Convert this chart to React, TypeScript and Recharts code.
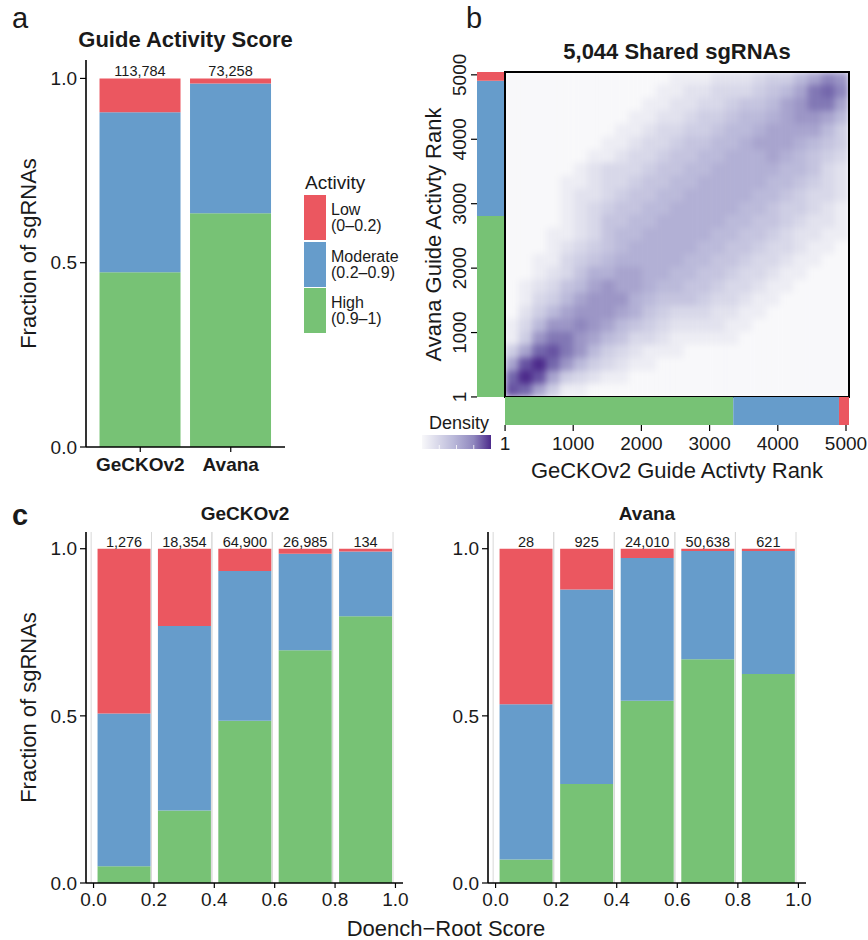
import React from 'react';
import { BarChart, Bar, XAxis, YAxis, LabelList, ReferenceArea, ComposedChart } from 'recharts';

const FONT = '"Liberation Sans", Arial, Helvetica, sans-serif';
const INK = '#1a1a1a';
const RED = '#EB5760';
const BLUE = '#669CCB';
const GREEN = '#77C275';

// activity classes, legend order
const activityNames = ['Low', 'Moderate', 'High'];
const activityRanges = ['(0–0.2)', '(0.2–0.9)', '(0.9–1)'];
const activityColors = [RED, BLUE, GREEN];

// panel a: fraction of guides per library
const libraries = ['GeCKOv2', 'Avana'];
const libHigh = [0.474, 0.634];
const libModerate = [0.434, 0.352];
const libLow = [0.092, 0.014];
const libCounts = [113784, 73258];

// panel b: rank vs rank density of the shared guides
const RANK_MAX = 5044;
const rankTicks = [1, 1000, 2000, 3000, 4000, 5000];
const avanaRankSplit = [2810, 2097, 137]; // high, moderate, low
const geckoRankSplit = [3347, 1550, 147];
// density level 0-f, top row first, GeCKOv2 rank left to right
const densityRows = [
  '00000000000011122234468A9',
  '0000000000011223334568BCA',
  '0000000000112233455689BB8',
  '0000000001122344566789986',
  '0000000011233445667888864',
  '0000000112334556678887654',
  '0000001123345566777876543',
  '0000012333455667777766532',
  '0000112334556677777665432',
  '0000122345566777776654332',
  '0000123455667777766544321',
  '0000123556677777665543221',
  '0001123566777776655432211',
  '0001234567777766554332110',
  '0011345677777665543321100',
  '0012357788776655433211000',
  '0123568988766554332110000',
  '0134689997655543321100000',
  '0246899987543332211000000',
  '13699A9865432222110000000',
  '149BB98653321111100000000',
  '48CDB96432111000000000000',
  '8DFC964321100000000000000',
  'CFD8432110000000000000000',
  'DC84110000000000000000000',
];
const densityPalette = [
  '#f8f8fa', '#ededf4', '#e2e2ee', '#d8d8e9', '#cecee4', '#c5c4df', '#bbbada', '#b2b0d5',
  '#a8a4ce', '#9c96c6', '#8f87be', '#8278b5', '#7467ac', '#6753a2', '#5a3e96', '#4c2a8b',
];

// panel c: activity by Doench-Root score bin
const scoreBins = [0.1, 0.3, 0.5, 0.7, 0.9];
const scoreTicks = [0, 0.2, 0.4, 0.6, 0.8, 1];
const geckoHigh = [0.05, 0.217, 0.485, 0.696, 0.798];
const geckoModerate = [0.457, 0.552, 0.448, 0.289, 0.194];
const geckoLow = [0.493, 0.231, 0.067, 0.015, 0.008];
const geckoCounts = [1276, 18354, 64900, 26985, 134];
const avanaHigh = [0.07, 0.296, 0.545, 0.669, 0.625];
const avanaModerate = [0.465, 0.582, 0.427, 0.324, 0.368];
const avanaLow = [0.465, 0.122, 0.028, 0.007, 0.007];
const avanaCounts = [28, 925, 24010, 50638, 621];

const axisLine = { stroke: '#000', strokeWidth: 1.6 };
const tickLine = { stroke: '#000', strokeWidth: 1.2 };
const tickText = { fill: INK, fontSize: 19 };
const fmtCount = (v: any) => Number(v).toLocaleString('en-US');

function stackBars(withCount: boolean) {
  return [
    <Bar key="high" dataKey="high" stackId="s" fill={GREEN} isAnimationActive={false} />,
    <Bar key="moderate" dataKey="moderate" stackId="s" fill={BLUE} isAnimationActive={false} />,
    <Bar key="low" dataKey="low" stackId="s" fill={RED} isAnimationActive={false}>
      {withCount && (
        <LabelList dataKey="count" position="top" offset={2} formatter={fmtCount} style={{ fill: INK, fontSize: 14.5 }} />
      )}
    </Bar>,
  ];
}

function PanelA() {
  const data = libraries.map((name, i) => ({
    name, high: libHigh[i], moderate: libModerate[i], low: libLow[i], count: libCounts[i],
  }));
  return (
    <div style={{ position: 'absolute', left: 0, top: 0 }}>
      <BarChart width={300} height={490} data={data} margin={{ top: 60, right: 15, bottom: 0, left: 0 }} barCategoryGap="5%">
        <XAxis dataKey="name" padding={{ left: 9, right: 9 }} height={43} interval={0}
          axisLine={axisLine} tickLine={tickLine} tickSize={5} tickMargin={6}
          tick={{ fill: INK, fontSize: 19, fontWeight: 700 }} />
        <YAxis width={86} domain={[0, 1.05]} ticks={[0, 0.5, 1]} tickFormatter={(v) => v.toFixed(1)}
          axisLine={axisLine} tickLine={tickLine} tickSize={6} tickMargin={3} tick={tickText}
          label={{ value: 'Fraction of sgRNAs', angle: -90, position: 'insideLeft', offset: 28, fontSize: 22, fill: INK, style: { textAnchor: 'middle' } }} />
        {stackBars(true)}
      </BarChart>
    </div>
  );
}

function RotatedTick(props: any) {
  const { x, y, payload } = props;
  const cx = x - 9;
  return (
    <text x={cx} y={y} transform={`rotate(-90 ${cx} ${y})`} textAnchor="middle" dominantBaseline="central" fontSize={19} fill={INK}>
      {payload.value}
    </text>
  );
}

function PanelB() {
  const grid = densityRows.length;
  const span = RANK_MAX / grid;
  const cells = densityRows.flatMap((row, r) =>
    row.split('').map((ch, c) => ({ c, j: grid - 1 - r, level: parseInt(ch, 16) })),
  );
  const avana = [{ name: 'Avana', high: avanaRankSplit[0], moderate: avanaRankSplit[1], low: avanaRankSplit[2] }];
  const gecko = [{ name: 'GeCKOv2', high: geckoRankSplit[0], moderate: geckoRankSplit[1], low: geckoRankSplit[2] }];
  return (
    <>
      {/* density tiles, softened like the smoothed raster of the original */}
      <div style={{ position: 'absolute', left: 505, top: 72, width: 344, height: 325, overflow: 'hidden' }}>
        <div style={{ filter: 'blur(3px)' }}>
          <ComposedChart width={344} height={325} data={[]} margin={{ top: 0, right: 0, bottom: 0, left: 0 }}>
            <XAxis type="number" dataKey="x" domain={[0, RANK_MAX]} hide height={0} allowDataOverflow />
            <YAxis type="number" dataKey="y" domain={[0, RANK_MAX]} hide width={0} allowDataOverflow />
            {cells.map((d) => (
              <ReferenceArea key={`${d.c}-${d.j}`} x1={d.c * span} x2={(d.c + 1) * span} y1={d.j * span} y2={(d.j + 1) * span}
                fill={densityPalette[d.level]} fillOpacity={1} stroke={densityPalette[d.level]} strokeWidth={0.6} ifOverflow="visible" />
            ))}
          </ComposedChart>
        </div>
      </div>
      <div style={{ position: 'absolute', left: 503, top: 70 }}>
        <ComposedChart width={348} height={329} data={[]} margin={{ top: 2, right: 2, bottom: 2, left: 2 }}>
          <XAxis type="number" dataKey="x" domain={[0, RANK_MAX]} hide height={0} allowDataOverflow />
          <YAxis type="number" dataKey="y" domain={[0, RANK_MAX]} hide width={0} allowDataOverflow />
          <ReferenceArea x1={0} x2={RANK_MAX} y1={0} y2={RANK_MAX} fill="none" fillOpacity={0} stroke="#000" strokeWidth={2} ifOverflow="visible" />
        </ComposedChart>
      </div>
      <div style={{ position: 'absolute', left: 420, top: 50 }}>
        <BarChart width={85} height={359} data={avana} margin={{ top: 22, right: 1, bottom: 12, left: 0 }} barCategoryGap={0}>
          <XAxis dataKey="name" hide height={0} />
          <YAxis width={57} domain={[0, RANK_MAX]} ticks={rankTicks} allowDataOverflow axisLine={false} interval={0}
            tickLine={tickLine} tickSize={6} tickMargin={2} tick={(p: any) => <RotatedTick {...p} />}
            label={{ value: 'Avana Guide Activty Rank', angle: -90, position: 'insideLeft', offset: 13, fontSize: 22, fill: INK, style: { textAnchor: 'middle' } }} />
          {stackBars(false)}
        </BarChart>
      </div>
      <div style={{ position: 'absolute', left: 483, top: 395 }}>
        <BarChart layout="vertical" width={385} height={95} data={gecko} margin={{ top: 2, right: 19, bottom: 0, left: 22 }} barCategoryGap={0}>
          <YAxis type="category" dataKey="name" hide width={0} />
          <XAxis type="number" domain={[0, RANK_MAX]} ticks={rankTicks} allowDataOverflow height={65} axisLine={false} interval={0}
            tickLine={tickLine} tickSize={6} tickMargin={6} tick={tickText}
            label={{ value: 'GeCKOv2 Guide Activty Rank', position: 'insideBottom', offset: 12, fontSize: 22, fill: INK }} />
          {stackBars(false)}
        </BarChart>
      </div>
    </>
  );
}

function BinFrame(props: any) {
  const { x, y, width, height } = props;
  return (
    <g>
      <line x1={x} y1={y} x2={x} y2={y + height} stroke="#d8d8d8" strokeWidth={1} />
      <line x1={x + width} y1={y} x2={x + width} y2={y + height} stroke="#d8d8d8" strokeWidth={1} />
    </g>
  );
}

function ScorePanel(props: any) {
  const { left, width, yWidth, right, high, moderate, low, counts, yLabel } = props;
  const data = scoreBins.map((x, i) => ({ x, high: high[i], moderate: moderate[i], low: low[i], count: counts[i] }));
  return (
    <div style={{ position: 'absolute', left, top: 500 }}>
      <BarChart width={width} height={440} data={data} margin={{ top: 32, right, bottom: 0, left: 0 }} barSize={53}>
        <XAxis type="number" dataKey="x" domain={[-0.025, 1.025]} ticks={scoreTicks} allowDataOverflow interval={0}
          tickFormatter={(v) => v.toFixed(1)} height={57} axisLine={axisLine} tickLine={tickLine}
          tickSize={5} tickMargin={5} tick={tickText} />
        <YAxis width={yWidth} domain={[0, 1.05]} ticks={[0, 0.5, 1]} tickFormatter={(v) => v.toFixed(1)}
          axisLine={axisLine} tickLine={tickLine} tickSize={6} tickMargin={3} tick={tickText}
          label={yLabel ? { value: 'Fraction of sgRNAs', angle: -90, position: 'insideLeft', offset: 28, fontSize: 22, fill: INK, style: { textAnchor: 'middle' } } : undefined} />
        {scoreBins.map((c) => (
          <ReferenceArea key={c} x1={c - 0.108} x2={c + 0.092} y1={0} y2={1.05} shape={BinFrame} ifOverflow="visible" />
        ))}
        {stackBars(true)}
      </BarChart>
    </div>
  );
}

function Overlay() {
  const t = { fill: INK, fontFamily: FONT };
  const keyTops = [195, 242, 288];
  return (
    <svg width={868} height={940} style={{ position: 'absolute', left: 0, top: 0, pointerEvents: 'none' }}>
      <defs>
        <linearGradient id="dens" x1="0" x2="1" y1="0" y2="0">
          <stop offset="0" stopColor={densityPalette[0]} />
          <stop offset="0.45" stopColor={densityPalette[6]} />
          <stop offset="0.75" stopColor={densityPalette[10]} />
          <stop offset="1" stopColor={densityPalette[15]} />
        </linearGradient>
      </defs>
      <text x={12} y={28} fontSize={29} {...t}>a</text>
      <text x={466} y={28} fontSize={29} {...t}>b</text>
      <text x={12} y={525} fontSize={29} fontWeight={700} {...t}>c</text>
      <text x={185.5} y={47} fontSize={22} fontWeight={700} textAnchor="middle" {...t}>Guide Activity Score</text>
      <text x={677} y={59} fontSize={22} fontWeight={700} textAnchor="middle" {...t}>5,044 Shared sgRNAs</text>
      <text x={245} y={520} fontSize={19} fontWeight={700} textAnchor="middle" {...t}>GeCKOv2</text>
      <text x={647} y={520} fontSize={19} fontWeight={700} textAnchor="middle" {...t}>Avana</text>
      <text x={446} y={936} fontSize={22} textAnchor="middle" {...t}>Doench−Root Score</text>

      <text x={305} y={189} fontSize={19} {...t}>Activity</text>
      {activityNames.map((name, i) => (
        <g key={name}>
          <rect x={304} y={keyTops[i]} width={22} height={45} fill={activityColors[i]} />
          <text x={331} y={keyTops[i] + 20} fontSize={16} {...t}>{name}</text>
          <text x={331} y={keyTops[i] + 36} fontSize={16} {...t}>{activityRanges[i]}</text>
        </g>
      ))}

      <text x={429} y={428.5} fontSize={18} {...t}>Density</text>
      <rect x={422} y={435} width={69} height={14} fill="url(#dens)" />
      {[0.25, 0.5, 0.75].map((f) => (
        <line key={f} x1={422 + 69 * f} x2={422 + 69 * f} y1={445} y2={449} stroke="#fff" strokeWidth={0.8} />
      ))}
    </svg>
  );
}

export default function App() {
  return (
    <div style={{ position: 'absolute', left: 0, top: 0, width: 868, height: 940, overflow: 'hidden', background: '#fff', fontFamily: FONT }}>
      <PanelA />
      <PanelB />
      <ScorePanel left={0} width={430} yWidth={86} right={27} high={geckoHigh} moderate={geckoModerate} low={geckoLow} counts={geckoCounts} yLabel />
      <ScorePanel left={430} width={438} yWidth={58} right={62} high={avanaHigh} moderate={avanaModerate} low={avanaLow} counts={avanaCounts} />
      <Overlay />
    </div>
  );
}
